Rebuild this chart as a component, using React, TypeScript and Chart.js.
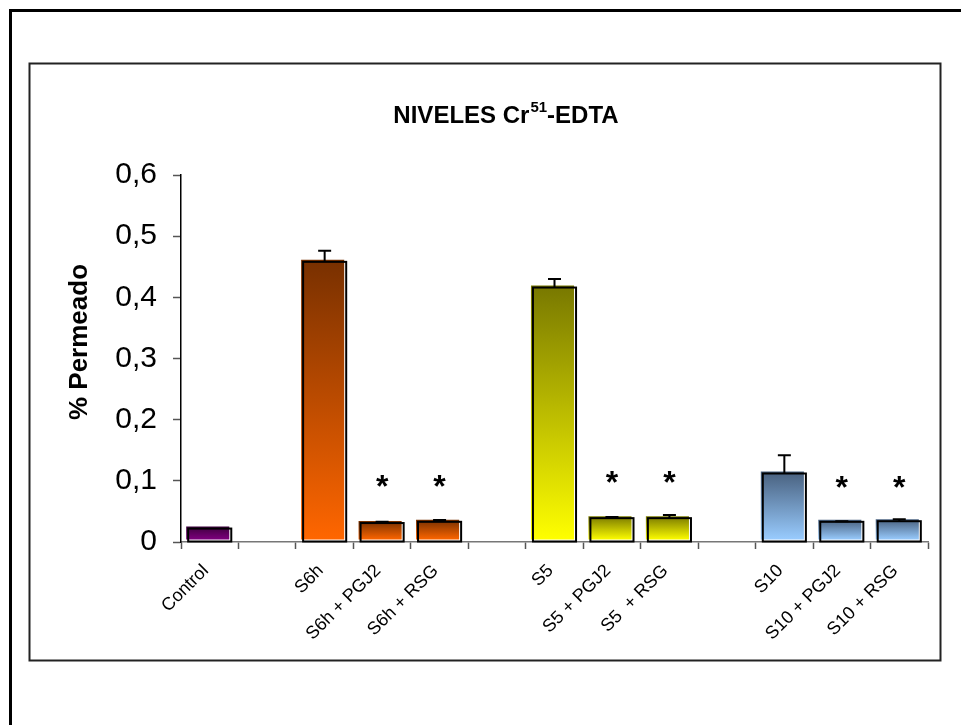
import { useEffect, useRef } from 'react';
import { Chart, registerables } from 'chart.js';

Chart.register(...registerables);

const FONT = '"Liberation Sans", Arial, sans-serif';

const categories = [
  'Control', '', 'S6h', 'S6h + PGJ2', 'S6h + RSG', '', 'S5', 'S5 + PGJ2', 'S5  + RSG', '', 'S10', 'S10 + PGJ2', 'S10 + RSG',
];
const values = [0.022, null, 0.458, 0.031, 0.033, null, 0.416, 0.039, 0.039, null, 0.112, 0.033, 0.034];
const errors = [0, null, 0.018, 0.002, 0.003, null, 0.014, 0.002, 0.005, null, 0.030, 0.001, 0.003];
const asterisks = [null, null, null, 0.095, 0.095, null, null, 0.101, 0.101, null, null, 0.093, 0.093];
const yTickLabels = ['0', '0,1', '0,2', '0,3', '0,4', '0,5', '0,6'];
const gradientTop = ['#3e003e', null, '#783000', '#783000', '#783000', null, '#787800', '#787800', '#787800', null, '#48607e', '#48607e', '#48607e'];
const gradientBottom = ['#800080', null, '#ff6600', '#ff6600', '#ff6600', null, '#ffff00', '#ffff00', '#ffff00', null, '#99ccff', '#99ccff', '#99ccff'];
const titleMain = 'NIVELES Cr';
const titleSup = '51';
const titleEnd = '-EDTA';
const yTitle = '% Permeado';

const SHIFT = 2;

const decorPlugin = {
  id: 'decor',
  beforeDraw(chart: any) {
    const ctx = chart.ctx;
    ctx.save();
    ctx.fillStyle = '#fff';
    ctx.fillRect(0, 0, chart.width, chart.height);
    ctx.strokeStyle = '#000';
    ctx.lineWidth = 3;
    ctx.strokeRect(10.5, 10.5, 1200, 1200);
    ctx.lineWidth = 2;
    ctx.strokeStyle = '#222';
    ctx.strokeRect(29.5, 63.5, 911, 597);
    ctx.restore();
  },
  beforeDatasetDraw(chart: any) {
    chart.ctx.save();
    chart.ctx.translate(-SHIFT, -SHIFT);
  },
  afterDatasetDraw(chart: any) {
    chart.ctx.restore();
  },
  afterDatasetsDraw(chart: any) {
    const ctx = chart.ctx;
    const meta = chart.getDatasetMeta(0);
    const y = chart.scales.y;
    const xs = chart.scales.x;
    ctx.save();
    meta.data.forEach((el: any, i: number) => {
      const v = values[i];
      if (v == null) return;
      const w = el.width;
      const left = el.x - w / 2;
      const top = el.y;
      const base = el.base;
      ctx.strokeStyle = '#000';
      ctx.lineWidth = 2;
      ctx.strokeRect(left, top, w, base - top);
      const e = errors[i];
      if (e) {
        const ye = y.getPixelForValue(v + e);
        ctx.beginPath();
        ctx.moveTo(el.x, top);
        ctx.lineTo(el.x, ye);
        ctx.moveTo(el.x - 6.5, ye);
        ctx.lineTo(el.x + 6.5, ye);
        ctx.stroke();
      }
      const a = asterisks[i];
      if (a != null) {
        const fs = 32;
        ctx.font = `bold ${fs}px ${FONT}`;
        ctx.fillStyle = '#000';
        ctx.textAlign = 'center';
        ctx.textBaseline = 'alphabetic';
        ctx.fillText('*', el.x, y.getPixelForValue(a) + 0.41 * fs);
      }
    });
    // x category labels, rotated 45 degrees
    ctx.fillStyle = '#000';
    ctx.font = `18px ${FONT}`;
    ctx.textAlign = 'right';
    ctx.textBaseline = 'middle';
    categories.forEach((lab, i) => {
      if (!lab) return;
      const px = xs.getPixelForValue(i);
      ctx.save();
      ctx.translate(px - 4, xs.top + 26);
      ctx.rotate(-Math.PI / 4);
      ctx.fillText(lab, 0, 0);
      ctx.restore();
    });
    // y title
    ctx.save();
    ctx.font = `bold 26px ${FONT}`;
    ctx.textAlign = 'center';
    ctx.textBaseline = 'middle';
    ctx.translate(80, 342);
    ctx.rotate(-Math.PI / 2);
    ctx.fillText(yTitle, 0, 0);
    ctx.restore();
    ctx.restore();
  },
  afterDraw(chart: any) {
    const ctx = chart.ctx;
    ctx.save();
    ctx.fillStyle = '#000';
    ctx.textBaseline = 'alphabetic';
    ctx.textAlign = 'left';
    const big = `bold 24px ${FONT}`;
    const small = `bold 15px ${FONT}`;
    ctx.font = big;
    const w1 = ctx.measureText(titleMain).width;
    const w3 = ctx.measureText(titleEnd).width;
    ctx.font = small;
    const w2 = ctx.measureText(titleSup).width;
    const total = w1 + w2 + w3 + 1;
    let x = 506 - total / 2;
    const base = 123;
    ctx.font = big;
    ctx.fillText(titleMain, x, base);
    x += w1 + 1;
    ctx.font = small;
    ctx.fillText(titleSup, x, base - 11);
    x += w2;
    ctx.font = big;
    ctx.fillText(titleEnd, x, base);
    ctx.restore();
  },
};

export default function App() {
  const ref = useRef<HTMLCanvasElement | null>(null);
  useEffect(() => {
    if (!ref.current) return;
    const chart = new Chart(ref.current, {
      type: 'bar',
      data: {
        labels: categories,
        datasets: [
          {
            data: values as any,
            backgroundColor: (c: any) => {
              const ch = c.chart;
              const i = c.dataIndex;
              const v = values[i];
              if (v == null || !ch.chartArea) return 'rgba(0,0,0,0)';
              const ys = ch.scales.y;
              const t = ys.getPixelForValue(v);
              const b = ys.getPixelForValue(0);
              const g = ch.ctx.createLinearGradient(0, t, 0, b);
              g.addColorStop(0, gradientTop[i] as string);
              g.addColorStop(1, gradientBottom[i] as string);
              return g;
            },
            borderWidth: 0,
            barPercentage: 0.75,
            categoryPercentage: 1,
          },
        ],
      },
      options: {
        responsive: false,
        animation: false,
        layout: { padding: { left: 64, top: 175, right: 33, bottom: 63 } },
        plugins: {
          legend: { display: false },
          title: { display: false },
          tooltip: { enabled: false },
        },
        scales: {
          x: {
            offset: true,
            grid: { offset: true, drawOnChartArea: false, tickLength: 7, tickColor: '#555', tickWidth: 1.5 },
            border: { color: '#777', width: 1.5 },
            ticks: { display: false, autoSkip: false },
            afterFit: (s: any) => {
              s.height = 120;
            },
          },
          y: {
            min: 0,
            max: 0.6,
            grid: { drawOnChartArea: false, tickLength: 8, tickColor: '#555', tickWidth: 1.5 },
            border: { color: '#000', width: 1.5 },
            ticks: {
              stepSize: 0.1,
              padding: 16,
              color: '#000',
              font: { family: FONT, size: 30 },
              callback: (_v: any, i: number) => yTickLabels[i],
            },
            title: { display: false },
            afterFit: (s: any) => {
              s.width = 117;
            },
          },
        },
      },
      plugins: [decorPlugin],
    });
    return () => chart.destroy();
  }, []);
  return (
    <div style={{ position: 'absolute', left: 0, top: 0, width: 961, height: 725 }}>
      <canvas ref={ref} width={961} height={725} />
    </div>
  );
}
